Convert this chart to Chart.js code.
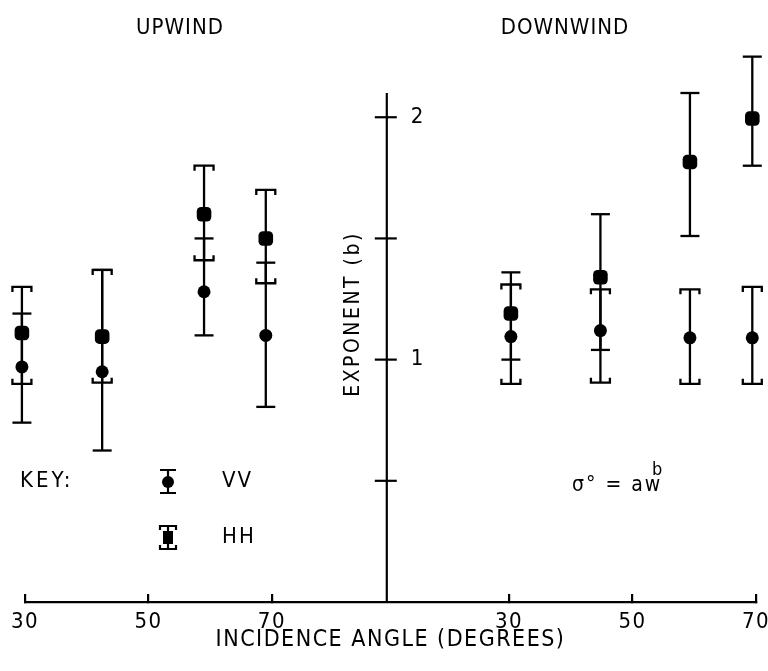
<!DOCTYPE html>
<html>
<head>
<meta charset="utf-8">
<script src="https://cdn.jsdelivr.net/npm/chart.js@4.4.1/dist/chart.umd.min.js"></script>
<style>
  html, body { margin: 0; padding: 0; background: #fff; }
  canvas { display: block; }
</style>
</head>
<body>
<canvas id="chart" width="768" height="671"></canvas>
<script>
/* ---------- data ---------- */
var upAngles   = [29.5, 42.5, 59, 69];
var upVV       = [0.97, 0.95, 1.28, 1.10];
var upVVLow    = [0.74, 0.625, 1.10, 0.805];
var upVVHigh   = [1.19, 1.37, 1.50, 1.40];
var upHH       = [1.11, 1.095, 1.60, 1.50];
var upHHLow    = [0.90, 0.905, 1.41, 1.315];
var upHHHigh   = [1.30, 1.37, 1.80, 1.70];

var downAngles = [30.3, 44.8, 59.3, 69.4];
var downVV     = [1.095, 1.12, 1.09, 1.09];
var downVVLow  = [0.90, 0.905, 0.90, 0.90];
var downVVHigh = [1.31, 1.29, 1.29, 1.30];
var downHH     = [1.19, 1.34, 1.815, 1.995];
var downHHLow  = [1.00, 1.04, 1.51, 1.80];
var downHHHigh = [1.36, 1.60, 2.10, 2.25];

var angleTicks = [30, 50, 70];
var exponentTicks = [0.5, 1, 1.5, 2];
var exponentLabels = { 1: '1', 2: '2' };

/* layout of the two panels on one shared angle line */
var PANEL_SHIFT = 78.4;   // downwind angle + shift = position on the upwind scale
var AXIS_AT = 88.6;       // where the exponent axis stands, upwind scale units
var UP_MIN = 30, DOWN_MAX = 70;

var FONT = "'Liberation Sans Narrow', 'DejaVu Sans Condensed', 'Noto Sans', sans-serif";

function points(xs, ys) {
    return xs.map(function (x, i) { return { x: x, y: ys[i] }; });
}

/* error bars, caps plain or bracket-shaped */
function drawCap(ctx, x, y, style, dir) {
    var w = 9.5, hook = 5;
    ctx.beginPath();
    if (style === 'bracket') {
        ctx.moveTo(x - w, y + dir * hook);
        ctx.lineTo(x - w, y);
        ctx.lineTo(x + w, y);
        ctx.lineTo(x + w, y + dir * hook);
    } else {
        ctx.moveTo(x - w, y);
        ctx.lineTo(x + w, y);
    }
    ctx.stroke();
}

var errorBars = {
    id: 'errorBars',
    beforeDraw: function (chart) {
        // the old lettering is widely spaced; applies to the axis text too
        chart.ctx.letterSpacing = '1.5px';
    },
    beforeDatasetsDraw: function (chart) {
        var ctx = chart.ctx, y = chart.scales.y;
        chart.data.datasets.forEach(function (ds) {
            var xs = chart.scales[ds.xAxisID];
            ctx.save();
            ctx.strokeStyle = '#000';
            ctx.lineWidth = 2.3;
            ds.data.forEach(function (p, j) {
                var px = xs.getPixelForValue(p.x);
                var top = y.getPixelForValue(ds.errHigh[j]);
                var bot = y.getPixelForValue(ds.errLow[j]);
                ctx.beginPath();
                ctx.moveTo(px, top);
                ctx.lineTo(px, bot);
                ctx.stroke();
                drawCap(ctx, px, top, ds.capStyle, 1);
                drawCap(ctx, px, bot, ds.capStyle, -1);
            });
            ctx.restore();
        });
    }
};

/* centre exponent axis, panel titles, key and formula */
var decorations = {
    id: 'decorations',
    afterDraw: function (chart) {
        var ctx = chart.ctx, y = chart.scales.y, x = chart.scales.x;
        var ax = x.getPixelForValue(AXIS_AT);
        ctx.save();
        ctx.strokeStyle = '#000';
        ctx.fillStyle = '#000';
        ctx.lineWidth = 2.2;

        // axis line and crossing ticks
        ctx.beginPath();
        ctx.moveTo(ax, y.getPixelForValue(y.max));
        ctx.lineTo(ax, y.getPixelForValue(0));
        ctx.stroke();
        ctx.letterSpacing = '0px';
        ctx.font = '22px ' + FONT;
        ctx.textBaseline = 'middle';
        ctx.textAlign = 'left';
        y.ticks.forEach(function (t) {
            var py = y.getPixelForValue(t.value);
            ctx.beginPath();
            ctx.moveTo(ax - 12, py);
            ctx.lineTo(ax + 10, py);
            ctx.stroke();
            if (exponentLabels[t.value]) ctx.fillText(exponentLabels[t.value], ax + 24, py);
        });

        ctx.letterSpacing = '1px';
        ctx.font = '22px ' + FONT;
        ctx.textAlign = 'center';
        ctx.fillText('UPWIND', 180, 28);
        ctx.fillText('DOWNWIND', 565, 28);

        ctx.letterSpacing = '2.5px';
        ctx.font = '21px ' + FONT;
        ctx.save();
        ctx.translate(ax - 33, 314);
        ctx.rotate(-Math.PI / 2);
        ctx.fillText('EXPONENT (b)', 0, 0);
        ctx.restore();

        // key
        ctx.letterSpacing = '3px';
        ctx.font = '22px ' + FONT;
        ctx.textAlign = 'left';
        ctx.fillText('KEY:', 20, 481);
        ctx.letterSpacing = '2px';
        ctx.fillText('VV', 222, 481);
        ctx.fillText('HH', 222, 537);
        var kx = 168;
        ctx.beginPath(); ctx.moveTo(kx, 470); ctx.lineTo(kx, 493); ctx.stroke();
        ctx.beginPath(); ctx.moveTo(kx - 8, 470); ctx.lineTo(kx + 8, 470);
        ctx.moveTo(kx - 8, 493); ctx.lineTo(kx + 8, 493); ctx.stroke();
        ctx.beginPath(); ctx.arc(kx, 482, 6, 0, Math.PI * 2); ctx.fill();
        ctx.beginPath(); ctx.moveTo(kx, 526); ctx.lineTo(kx, 549); ctx.stroke();
        ctx.beginPath();
        ctx.moveTo(kx - 8, 530); ctx.lineTo(kx - 8, 526); ctx.lineTo(kx + 8, 526); ctx.lineTo(kx + 8, 530);
        ctx.moveTo(kx - 8, 545); ctx.lineTo(kx - 8, 549); ctx.lineTo(kx + 8, 549); ctx.lineTo(kx + 8, 545);
        ctx.stroke();
        ctx.fillRect(kx - 5, 531, 10, 13);

        // formula
        ctx.font = '21px ' + FONT;
        ctx.fillText('\u03c3\u00b0 = aw', 572, 486);
        ctx.font = '18px ' + FONT;
        ctx.fillText('b', 652, 470);
        ctx.restore();
    }
};

new Chart(document.getElementById('chart'), {
    type: 'scatter',
    data: {
        datasets: [
            { label: 'VV upwind', xAxisID: 'x', data: points(upAngles, upVV),
              errLow: upVVLow, errHigh: upVVHigh, capStyle: 'plain',
              pointStyle: 'circle', pointRadius: 6.5, clip: false },
            { label: 'HH upwind', xAxisID: 'x', data: points(upAngles, upHH),
              errLow: upHHLow, errHigh: upHHHigh, capStyle: 'bracket',
              pointStyle: 'rectRounded', pointRadius: 8.5, clip: false },
            { label: 'VV downwind', xAxisID: 'xd', data: points(downAngles, downVV),
              errLow: downVVLow, errHigh: downVVHigh, capStyle: 'bracket',
              pointStyle: 'circle', pointRadius: 6.5, clip: false },
            { label: 'HH downwind', xAxisID: 'xd', data: points(downAngles, downHH),
              errLow: downHHLow, errHigh: downHHHigh, capStyle: 'plain',
              pointStyle: 'rectRounded', pointRadius: 8.5, clip: false }
        ]
    },
    options: {
        responsive: false,
        animation: false,
        layout: { padding: { left: 25, right: 12, top: 93, bottom: 0 } },
        elements: { point: { backgroundColor: '#000', borderColor: '#000', borderWidth: 0 } },
        plugins: { legend: { display: false }, tooltip: { enabled: false } },
        scales: {
            x: {
                type: 'linear',
                min: UP_MIN,
                max: DOWN_MAX + PANEL_SHIFT,
                afterBuildTicks: function (s) {
                    s.ticks = angleTicks.concat(angleTicks.map(function (a) { return a + PANEL_SHIFT; }))
                        .map(function (v) { return { value: v }; });
                },
                afterFit: function (s) {
                    s.height = 69;
                    // end labels may hang over the edges, as in the original
                    s.paddingLeft = 0;
                    s.paddingRight = 0;
                },
                border: { display: true, color: '#000', width: 2.2 },
                grid: { drawOnChartArea: false, drawTicks: true, tickLength: -8, color: '#000', lineWidth: 2.2 },
                ticks: {
                    autoSkip: false, maxRotation: 0, padding: 15, color: '#000',
                    font: { family: FONT, size: 22 },
                    callback: function (v) { return String(Math.round(v > AXIS_AT ? v - PANEL_SHIFT : v)); }
                },
                title: {
                    display: true, text: 'INCIDENCE ANGLE (DEGREES)', color: '#000',
                    font: { family: FONT, size: 23 }, padding: { top: 0, bottom: 17 }
                }
            },
            xd: {
                type: 'linear',
                display: false,
                min: UP_MIN - PANEL_SHIFT,
                max: DOWN_MAX
            },
            y: {
                type: 'linear',
                display: false,
                min: 0,
                max: 2.1,
                afterBuildTicks: function (s) {
                    s.ticks = exponentTicks.map(function (v) { return { value: v }; });
                }
            }
        }
    },
    plugins: [errorBars, decorations]
});
</script>
</body>
</html>
